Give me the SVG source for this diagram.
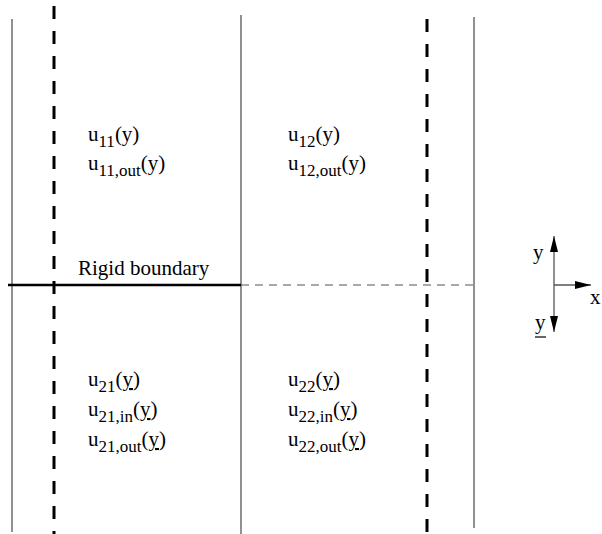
<svg xmlns="http://www.w3.org/2000/svg" width="602" height="534" viewBox="0 0 602 534">
<style>
.t{font-family:"Liberation Serif","Times New Roman",serif;font-size:21px;fill:#000}
.s{font-size:17px}
.solid{stroke:#555;stroke-width:1.3;fill:none}
.dash{stroke:#000;stroke-width:3;stroke-dasharray:13 12;fill:none}
.ax{stroke:#555;stroke-width:1.3;fill:none}
</style>
<defs>
<marker id="ah2" viewBox="0 0 16 8" refX="16" refY="4" markerWidth="16" markerHeight="8" markerUnits="userSpaceOnUse" orient="auto">
<path d="M0,0 L16,4 L0,8 z" fill="#000"/>
</marker>
</defs>
<g id="connectors">
<line class="solid" x1="12" y1="19" x2="12" y2="532"/>
<line class="solid" x1="241" y1="15" x2="241" y2="534"/>
<line class="solid" x1="474" y1="17" x2="474" y2="528"/>
<line class="dash" x1="54" y1="6" x2="54" y2="534"/>
<line class="dash" x1="427" y1="19" x2="427" y2="534"/>
<line x1="8" y1="285" x2="241" y2="285" stroke="#000" stroke-width="2.5"/>
<line x1="241" y1="285" x2="474" y2="285" stroke="#555" stroke-width="1.2" stroke-dasharray="8 6"/>
</g>
<g id="axes">
<line class="ax" x1="554" y1="285" x2="554" y2="236" marker-end="url(#ah2)"/>
<line class="ax" x1="554" y1="285" x2="554" y2="332" marker-end="url(#ah2)"/>
<line class="ax" x1="554" y1="285" x2="591" y2="285" marker-end="url(#ah2)"/>
<text class="t" x="533" y="259">y</text>
<text class="t" x="590" y="304">x</text>
<text class="t" x="535" y="329">y</text>
<line x1="535" y1="337" x2="546" y2="337" stroke="#000" stroke-width="1.2"/>
</g>
<g id="label-rigid">
<text class="t" x="78" y="275">Rigid boundary</text>
</g>
<g id="region11">
<text class="t" x="88" y="141">u<tspan class="s" dy="6">11</tspan><tspan dy="-6">(y)</tspan></text>
<text class="t" x="88" y="170">u<tspan class="s" dy="6">11,out</tspan><tspan dy="-6">(y)</tspan></text>
</g>
<g id="region12">
<text class="t" x="288" y="141">u<tspan class="s" dy="6">12</tspan><tspan dy="-6">(y)</tspan></text>
<text class="t" x="288" y="170">u<tspan class="s" dy="6">12,out</tspan><tspan dy="-6">(y)</tspan></text>
</g>
<g id="region21">
<text class="t" x="88" y="386">u<tspan class="s" dy="6">21</tspan><tspan dy="-6">(<tspan text-decoration="underline">y</tspan>)</tspan></text>
<text class="t" x="88" y="416">u<tspan class="s" dy="6">21,in</tspan><tspan dy="-6">(<tspan text-decoration="underline">y</tspan>)</tspan></text>
<text class="t" x="88" y="446">u<tspan class="s" dy="6">21,out</tspan><tspan dy="-6">(<tspan text-decoration="underline">y</tspan>)</tspan></text>
</g>
<g id="region22">
<text class="t" x="288" y="386">u<tspan class="s" dy="6">22</tspan><tspan dy="-6">(<tspan text-decoration="underline">y</tspan>)</tspan></text>
<text class="t" x="288" y="416">u<tspan class="s" dy="6">22,in</tspan><tspan dy="-6">(<tspan text-decoration="underline">y</tspan>)</tspan></text>
<text class="t" x="288" y="446">u<tspan class="s" dy="6">22,out</tspan><tspan dy="-6">(<tspan text-decoration="underline">y</tspan>)</tspan></text>
</g>
</svg>
